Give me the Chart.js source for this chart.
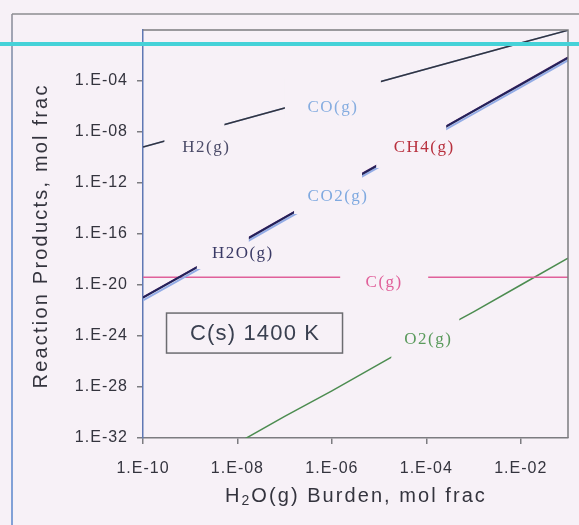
<!DOCTYPE html>
<html>
<head>
<meta charset="utf-8">
<script src="https://cdn.jsdelivr.net/npm/chart.js@4/dist/chart.umd.min.js"></script>
<style>
  html, body { margin: 0; padding: 0; background: #f7f1f7; }
  canvas { display: block; }
</style>
</head>
<body>
<canvas id="chart" width="579" height="525"></canvas>
<script>
// H2O(g) burden (mol frac) at each computed point
const burden = [1e-10, 1e-9, 1e-8, 1e-7, 1e-6, 1e-5, 1e-4, 1e-3, 1e-2, 1e-1];

// Equilibrium reaction products over C(s) at 1400 K (mol frac)
const h2  = [6.6e-10, 6.9e-9, 7.2e-8, 7.6e-7, 7.9e-6, 8.3e-5, 8.7e-4, 9.1e-3, 9.5e-2, 0.95];
const co  = [6.6e-10, 6.9e-9, 7.2e-8, 7.6e-7, 7.9e-6, 8.3e-5, 8.7e-4, 9.1e-3, 9.5e-2, 0.95];
const ch4 = [1.1e-21, 1.35e-19, 1.7e-17, 2.1e-15, 2.6e-13, 3.2e-11, 3.9e-9, 4.8e-7, 5.9e-5, 7.3e-3];
const h2o = [1.0e-21, 1.2e-19, 1.5e-17, 1.9e-15, 2.3e-13, 2.8e-11, 3.5e-9, 4.3e-7, 5.2e-5, 6.5e-3];
const co2 = [6.3e-22, 7.6e-20, 9.5e-18, 1.2e-15, 1.5e-13, 1.8e-11, 2.2e-9, 2.7e-7, 3.3e-5, 4.1e-3];
const cg  = [4e-20, 4e-20, 4e-20, 4e-20, 4e-20, 4e-20, 4e-20, 4e-20, 4e-20, 4e-20];
const o2  = [3.2e-37, 4.0e-35, 4.0e-33, 5.0e-31, 5.0e-29, 6.3e-27, 7.9e-25, 7.9e-23, 1.0e-20, 1.26e-18];

// Axis tick values
const xTickValues = [1e-10, 1e-8, 1e-6, 1e-4, 1e-2];
const yTickValues = [1e-32, 1e-28, 1e-24, 1e-20, 1e-16, 1e-12, 1e-8, 1e-4];

const BG = '#f7f1f7';
const TEXT = '#34343e';

// In-plot species labels, anchored in data coordinates; "cover" is the
// opaque label box [left, right, top, bottom] in px around the anchor.
const speciesLabels = [
  { text: 'H2(g)',  x: 2.2e-9,  y: 6.6e-10, color: '#4b4b68', cover: [-42, 18, -26, 12] },
  { text: 'CO(g)',  x: 1.05e-6, y: 7.6e-7,  color: '#86ade0', cover: [-48, 48, -30, 10] },
  { text: 'CH4(g)', x: 9.0e-5,  y: 5.6e-10, color: '#b8303e', cover: [-48, 22, -24, 20] },
  { text: 'CO2(g)', x: 1.35e-6, y: 9.5e-14, color: '#7fa9e0', cover: [-44, 24, -24, 18] },
  { text: 'H2O(g)', x: 1.3e-8,  y: 3.2e-18, color: '#3a3a66', cover: [-46, 6, -18, 16] },
  { text: 'C(g)',   x: 1.28e-5, y: 1.7e-20, color: '#e0609a', cover: [-44, 44, -12, 10] },
  { text: 'O2(g)',  x: 1.1e-4,  y: 4.9e-25, color: '#5a9a5c', cover: [-37, 31, -24, 20] }
];

const conditionLabel = { text: 'C(s) 1400 K', x: 2.3e-8, y: 1.7e-24, w: 176, h: 40 };

function sci(v) {
  const e = Math.round(Math.log10(v));
  return '1.E' + (e < 0 ? '-' : '+') + String(Math.abs(e)).padStart(2, '0');
}

function series(label, values, color, width) {
  return {
    label,
    data: burden.map((x, i) => ({ x, y: values[i] })),
    borderColor: color,
    borderWidth: width,
    pointRadius: 0,
    fill: false,
    tension: 0
  };
}

// Draw text with a fitted letter spacing so it spans the given length
function spacedText(ctx, text, x, y, font, length) {
  ctx.font = font;
  ctx.letterSpacing = '0px';
  const w = ctx.measureText(text).width;
  const sp = Math.max(0, (length - w) / text.length);
  ctx.letterSpacing = sp.toFixed(2) + 'px';
  ctx.fillText(text, x + sp / 2, y);
  ctx.letterSpacing = '0px';
}

const decor = {
  id: 'decor',
  beforeDraw(chart) {
    const ctx = chart.ctx;
    ctx.save();
    ctx.fillStyle = BG;
    ctx.fillRect(0, 0, chart.width, chart.height);
    ctx.restore();
    ctx.letterSpacing = '1px';
  },
  afterDatasetsDraw(chart) {
    const ctx = chart.ctx;
    const xs = chart.scales.x, ys = chart.scales.y;
    ctx.save();
    ctx.letterSpacing = '1.5px';
    ctx.textAlign = 'center';
    ctx.textBaseline = 'middle';
    for (const lb of speciesLabels) {
      const px = xs.getPixelForValue(lb.x);
      const py = ys.getPixelForValue(lb.y);
      const [l, r, t, b] = lb.cover;
      ctx.fillStyle = BG;
      ctx.fillRect(px + l, py + t, r - l, b - t);
    }
    ctx.font = '17px "Liberation Serif", "Times New Roman", serif';
    for (const lb of speciesLabels) {
      const px = xs.getPixelForValue(lb.x);
      const py = ys.getPixelForValue(lb.y);
      ctx.fillStyle = lb.color;
      ctx.fillText(lb.text, px, py);
    }
    // condition box
    const cx = xs.getPixelForValue(conditionLabel.x);
    const cy = ys.getPixelForValue(conditionLabel.y);
    const bw = conditionLabel.w, bh = conditionLabel.h;
    ctx.fillStyle = BG;
    ctx.fillRect(cx - bw / 2, cy - bh / 2, bw, bh);
    ctx.strokeStyle = '#6c6c70';
    ctx.lineWidth = 1.5;
    ctx.strokeRect(cx - bw / 2, cy - bh / 2, bw, bh);
    ctx.fillStyle = '#3a4050';
    spacedText(ctx, conditionLabel.text, cx, cy + 1, '22px "Liberation Sans", Arial, sans-serif', 130);
    ctx.restore();
  },
  afterDraw(chart) {
    const ctx = chart.ctx;
    const a = chart.chartArea;
    ctx.save();
    ctx.letterSpacing = '0px';
    // top and right plot edges
    ctx.strokeStyle = '#7c7c80';
    ctx.lineWidth = 1.5;
    ctx.beginPath();
    ctx.moveTo(a.left, a.top);
    ctx.lineTo(a.right, a.top);
    ctx.lineTo(a.right, a.bottom);
    ctx.stroke();

    // outer frame
    ctx.strokeStyle = '#8c8c90';
    ctx.beginPath();
    ctx.moveTo(12, 14);
    ctx.lineTo(chart.width, 14);
    ctx.stroke();
    const g = ctx.createLinearGradient(0, 14, 0, 140);
    g.addColorStop(0, '#8c8c94');
    g.addColorStop(1, '#5a86cc');
    ctx.strokeStyle = g;
    ctx.beginPath();
    ctx.moveTo(12, 14);
    ctx.lineTo(12, chart.height);
    ctx.stroke();

    // axis titles
    ctx.fillStyle = TEXT;
    ctx.textAlign = 'center';
    ctx.textBaseline = 'middle';
    ctx.save();
    ctx.translate(41, 237);
    ctx.rotate(-Math.PI / 2);
    spacedText(ctx, 'Reaction Products, mol frac', 0, 0, '20px "Liberation Sans", Arial, sans-serif', 305);
    ctx.restore();

    // x title with subscript 2
    const big = '20px "Liberation Sans", Arial, sans-serif';
    const small = '14px "Liberation Sans", Arial, sans-serif';
    ctx.textAlign = 'left';
    ctx.letterSpacing = '0px';
    ctx.font = big;
    const rest = 'O(g) Burden, mol frac';
    const wH0 = ctx.measureText('H').width;
    const wR0 = ctx.measureText(rest).width;
    ctx.font = small;
    const w20 = ctx.measureText('2').width;
    const nChars = 2 + rest.length;
    const sp = Math.max(0, (262 - (wH0 + w20 + wR0)) / nChars);
    ctx.letterSpacing = sp.toFixed(2) + 'px';
    const x0 = 356 - 131;
    const yb = 496;
    ctx.font = big;
    ctx.fillText('H', x0, yb);
    ctx.font = small;
    ctx.fillText('2', x0 + wH0 + sp, yb + 5);
    ctx.font = big;
    ctx.fillText(rest, x0 + wH0 + w20 + 2 * sp, yb);
    ctx.letterSpacing = '0px';

    // cyan rule across the figure
    ctx.strokeStyle = '#45d2d8';
    ctx.lineWidth = 4;
    ctx.beginPath();
    ctx.moveTo(0, 44);
    ctx.lineTo(chart.width, 44);
    ctx.stroke();
    ctx.restore();
  }
};

// First dataset is drawn on top
new Chart(document.getElementById('chart'), {
  type: 'line',
  data: {
    datasets: [
      series('H2(g)', h2, '#33333f', 1.5),
      series('CO(g)', co, '#86ade0', 1.5),
      series('H2O(g)', h2o, '#22225a', 2),
      series('CH4(g)', ch4, '#5a2a6a', 1.5),
      series('CO2(g)', co2, '#93ace6', 2),
      series('C(g)', cg, '#e0609a', 1.5),
      series('O2(g)', o2, '#4c8c50', 1.5)
    ]
  },
  options: {
    responsive: false,
    animation: false,
    events: [],
    layout: { padding: { left: 0, top: 30, right: 11, bottom: 0 } },
    plugins: { legend: { display: false }, tooltip: { enabled: false } },
    scales: {
      x: {
        type: 'logarithmic',
        min: 1e-10,
        max: 1e-1,
        afterBuildTicks: (s) => { s.ticks = xTickValues.map(v => ({ value: v })); },
        afterFit: (s) => { s.height = 87; },
        ticks: {
          callback: (v) => sci(v),
          autoSkip: false,
          maxRotation: 0,
          padding: 15,
          color: TEXT,
          font: { family: '"Liberation Sans", Arial, sans-serif', size: 16 }
        },
        grid: { drawOnChartArea: false, drawTicks: true, tickLength: 6, color: '#7c7c80', lineWidth: 1.5 },
        border: { display: true, color: '#7c7c80', width: 1.5 }
      },
      y: {
        type: 'logarithmic',
        min: 1e-32,
        max: 1,
        afterBuildTicks: (s) => { s.ticks = yTickValues.map(v => ({ value: v })); },
        afterFit: (s) => { s.width = 143; },
        ticks: {
          callback: (v) => sci(v),
          autoSkip: false,
          padding: 9,
          color: TEXT,
          font: { family: '"Liberation Sans", Arial, sans-serif', size: 16 }
        },
        grid: { drawOnChartArea: false, drawTicks: true, tickLength: 6, color: '#7c7c80', lineWidth: 1.5 },
        border: { display: true, color: '#5f78b4', width: 1.5 }
      }
    }
  },
  plugins: [decor]
});
</script>
</body>
</html>
